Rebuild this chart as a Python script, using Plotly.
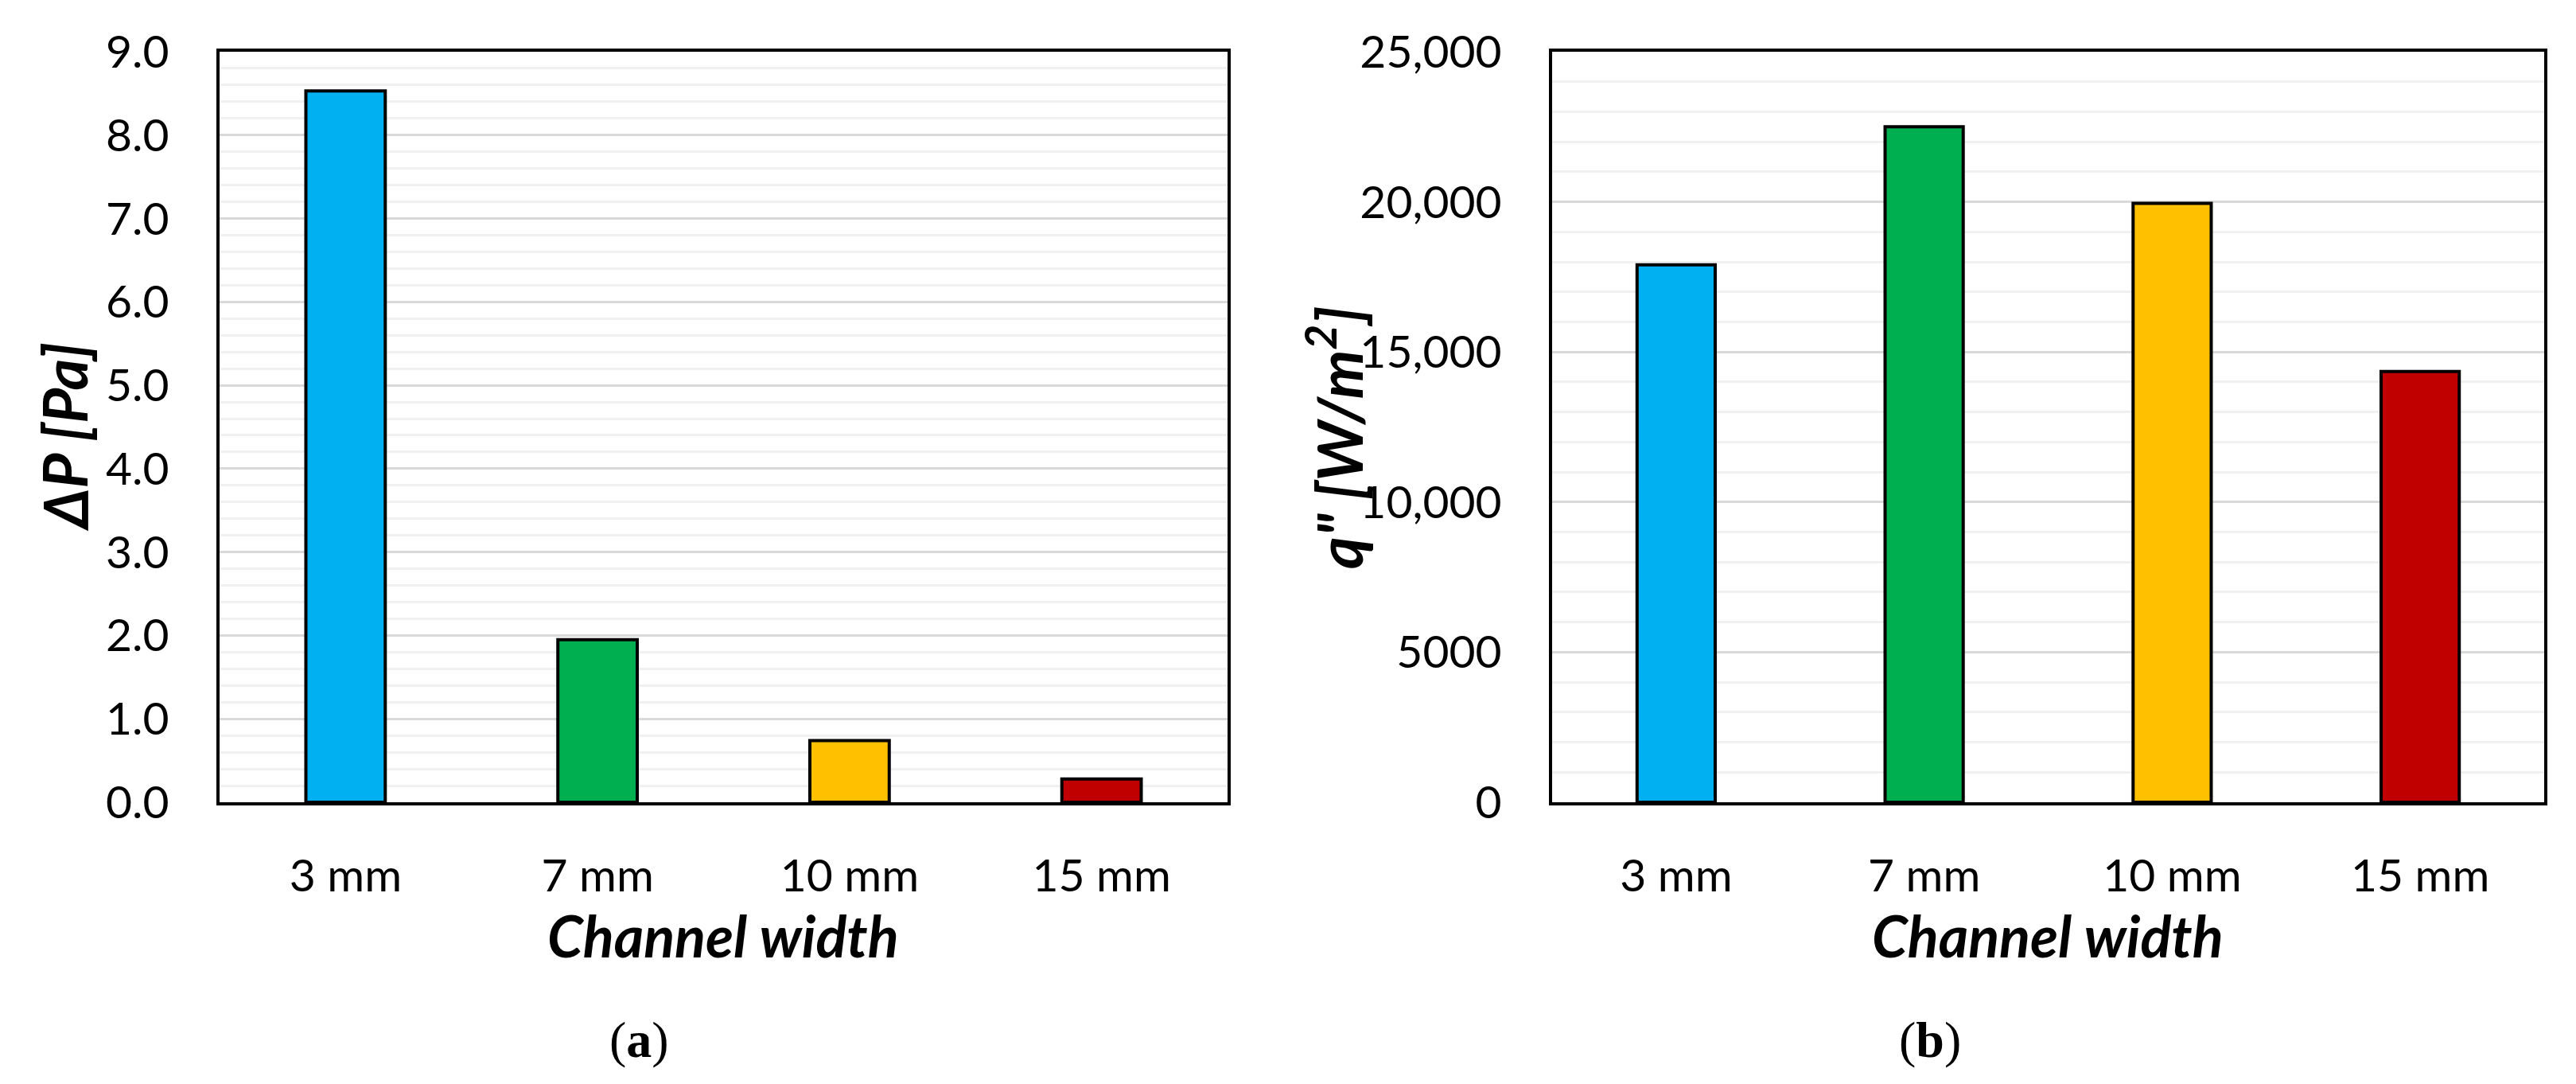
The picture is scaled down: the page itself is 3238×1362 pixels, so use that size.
import plotly.graph_objects as go

categories = ["3 mm", "7 mm", "10 mm", "15 mm"]
dp_values = [8.53, 1.95, 0.74, 0.28]
q_values = [17900, 22500, 19950, 14350]
bar_colors = ["#00B0F0", "#00B050", "#FFC000", "#C00000"]
dp_ticks = [0, 1, 2, 3, 4, 5, 6, 7, 8, 9]
q_tickvals = [0, 5000, 10000, 15000, 20000, 25000]
q_ticktext = ["0", "5000", "10,000", "15,000", "20,000", "25,000"]

W, H = 3238, 1362
TICK_FONT = dict(family="Lato, Carlito, Calibri, sans-serif", size=57, color="black")
XTITLE_FONT = dict(family="Lato, Carlito, Calibri, sans-serif", size=72, color="black")
DP_TITLE_FONT = dict(family="Lato, Carlito, Calibri, sans-serif", size=76, color="black")
Q_TITLE_FONT = dict(family="Lato, Carlito, Calibri, sans-serif", size=78, color="black")

def px_x(x):
    return x / W

def px_y(y):
    return (H - y) / H

fig = go.Figure()
fig.add_trace(go.Bar(x=categories, y=dp_values, marker=dict(color=bar_colors, line=dict(color="black", width=4)),
                     xaxis="x", yaxis="y", showlegend=False))
fig.add_trace(go.Bar(x=categories, y=q_values, marker=dict(color=bar_colors, line=dict(color="black", width=4)),
                     xaxis="x2", yaxis="y2", showlegend=False))

ydom = [px_y(1000), px_y(57)]
common_x = dict(type="category", showline=True, mirror=True, linewidth=4, linecolor="black",
                showgrid=False, ticks="", tickfont=TICK_FONT, ticklabelstandoff=40, zeroline=False,
                automargin=False)
common_y = dict(showline=True, mirror=True, linewidth=4, linecolor="black",
                showgrid=True, gridcolor="#d9d9d9", gridwidth=3, zeroline=False,
                ticks="", tickfont=TICK_FONT, ticklabelstandoff=48, automargin=False)

fig.update_layout(
    width=W, height=H,
    margin=dict(l=0, r=0, t=0, b=0),
    paper_bgcolor="white", plot_bgcolor="white",
    bargap=0.685,
    xaxis=dict(domain=[px_x(268), px_x(1535)], anchor="y", **common_x),
    yaxis=dict(domain=ydom, anchor="x", range=[0, 9], tickvals=dp_ticks, tickformat=".1f",
               minor=dict(dtick=0.2, showgrid=True, gridcolor="#f0f0f0", gridwidth=3, ticks=""),
               **common_y),
    xaxis2=dict(domain=[px_x(1943), px_x(3190)], anchor="y2", **common_x),
    yaxis2=dict(domain=ydom, anchor="x2", range=[0, 25000], tickvals=q_tickvals, ticktext=q_ticktext,
                minor=dict(dtick=1000, showgrid=True, gridcolor="#f0f0f0", gridwidth=3, ticks=""),
                **common_y),
    annotations=[
        dict(text="<b><i>Channel width</i></b>", x=px_x(901), y=px_y(1167), xref="paper", yref="paper",
             xanchor="center", yanchor="middle", showarrow=False, font=XTITLE_FONT),
        dict(text="<b><i>Channel width</i></b>", x=px_x(2566), y=px_y(1167), xref="paper", yref="paper",
             xanchor="center", yanchor="middle", showarrow=False, font=XTITLE_FONT),
        dict(text="<b><i>ΔP [Pa]</i></b>", x=px_x(72), y=px_y(541), xref="paper", yref="paper",
             xanchor="center", yanchor="middle", showarrow=False, textangle=-90, font=DP_TITLE_FONT),
        dict(text="<b><i>q\" [W/m<sup>2</sup>]</i></b>", x=px_x(1670), y=px_y(541), xref="paper", yref="paper",
             xanchor="center", yanchor="middle", showarrow=False, textangle=-90, font=Q_TITLE_FONT),
        dict(text="(<b>a</b>)", x=px_x(795), y=px_y(1298), xref="paper", yref="paper",
             xanchor="center", yanchor="middle", showarrow=False,
             font=dict(family="Liberation Serif, Times New Roman, serif", size=64, color="black")),
        dict(text="(<b>b</b>)", x=px_x(2418), y=px_y(1298), xref="paper", yref="paper",
             xanchor="center", yanchor="middle", showarrow=False,
             font=dict(family="Liberation Serif, Times New Roman, serif", size=64, color="black")),
    ],
)

fig.write_html("out.html")
